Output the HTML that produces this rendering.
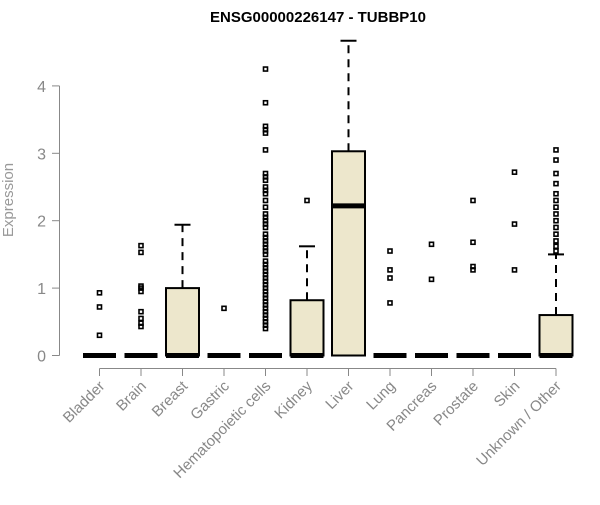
<!DOCTYPE html>
<html><head><meta charset="utf-8"><style>
body{margin:0;background:#fff;}
svg text{font-family:"Liberation Sans",Arial,sans-serif;}
</style></head><body>
<svg id="c" width="600" height="500" xmlns="http://www.w3.org/2000/svg">
<text x="318" y="22" text-anchor="middle" font-weight="bold" font-size="15">ENSG00000226147 - TUBBP10</text>
<text transform="translate(13,200) rotate(-90)" text-anchor="middle" font-size="15" fill="#999">Expression</text>
<g id="axes"></g><g id="marks"></g>
</svg>
<script>
const categories=["Bladder","Brain","Breast","Gastric","Hematopoietic cells","Kidney","Liver","Lung","Pancreas","Prostate","Skin","Unknown / Other"];
const q1=[0,0,0,0,0,0,0,0,0,0,0,0];
const medians=[0,0,0,0,0,0,2.22,0,0,0,0,0];
const q3=[0,0,1.0,0,0,0.82,3.03,0,0,0,0,0.6];
const whiskerHi=[0,0,1.94,0,0,1.62,4.67,0,0,0,0,1.5];
const outliers=[[0.3,0.72,0.93],[0.43,0.48,0.55,0.65,0.95,1.0,1.03,1.53,1.63],[],[0.7],
[0.4,0.45,0.5,0.55,0.6,0.65,0.7,0.75,0.8,0.85,0.9,0.95,1.0,1.05,1.1,1.15,1.2,1.25,1.3,1.35,1.4,1.5,1.55,1.6,1.65,1.7,1.75,1.8,1.9,1.95,2.0,2.05,2.1,2.2,2.3,2.4,2.45,2.5,2.6,2.65,2.7,3.05,3.3,3.35,3.4,3.75,4.25],
[2.3],[],[0.78,1.15,1.27,1.55],[1.13,1.65],[1.27,1.32,1.68,2.3],[1.27,1.95,2.72],
[1.55,1.62,1.7,1.8,1.9,2.0,2.1,2.2,2.3,2.4,2.55,2.7,2.9,3.05]];
const yTicks=[0,1,2,3,4];
const NS="http://www.w3.org/2000/svg";
const y=v=>355.5-v*67.4;
const x=i=>99.5+i*41.5;
function mk(tag,attrs,parent){const e=document.createElementNS(NS,tag);for(const k in attrs)e.setAttribute(k,attrs[k]);parent.appendChild(e);return e;}
const ax=document.getElementById('axes'),mg=document.getElementById('marks');
let l=mk('line',{x1:59.5,x2:59.5,y1:y(0),y2:y(4),stroke:'#888'},ax);


yTicks.forEach(t=>{
 const tk=mk('line',{x1:52,x2:59.5,y1:y(t),y2:y(t),stroke:'#888'},ax);
 
 
 const tx=mk('text',{x:46,y:y(t)+6,'text-anchor':'end','font-size':16,fill:'#888'},ax);
 tx.textContent=t;
 
 
});
l=mk('line',{x1:x(0),x2:x(11),y1:368.5,y2:368.5,stroke:'#888'},ax);


categories.forEach((c,i)=>{
 const tk=mk('line',{x1:x(i),x2:x(i),y1:368.5,y2:376,stroke:'#888'},ax);
 
 
 const tx=mk('text',{transform:`translate(${x(i)+6},${387}) rotate(-45)`,'text-anchor':'end','font-size':15,fill:'#888'},ax);
 tx.textContent=c;
 
 
 const g=mk('g',{},mg);
 
 
 const cx=x(i),hw=16.5;
 if(whiskerHi[i]>q3[i]){
  mk('line',{x1:cx,x2:cx,y1:y(q3[i]),y2:y(whiskerHi[i]),stroke:'#000','stroke-width':2,'stroke-dasharray':'8,6'},g);
  mk('line',{x1:cx-8,x2:cx+8,y1:y(whiskerHi[i]),y2:y(whiskerHi[i]),stroke:'#000','stroke-width':2},g);
 }
 if(q3[i]>q1[i]) mk('rect',{x:cx-hw,y:y(q3[i]),width:2*hw,height:y(q1[i])-y(q3[i]),fill:'#ede7cc',stroke:'#000','stroke-width':2},g);
 mk('line',{x1:cx-hw,x2:cx+hw,y1:y(medians[i]),y2:y(medians[i]),stroke:'#000','stroke-width':5},g);
 outliers[i].forEach(v=>{
  const p=mk('rect',{x:cx-2,y:y(v)-2,width:4,height:4,fill:'none',stroke:'#000','stroke-width':1.6},g);
  
  
 });
});
</script>
</body></html>
